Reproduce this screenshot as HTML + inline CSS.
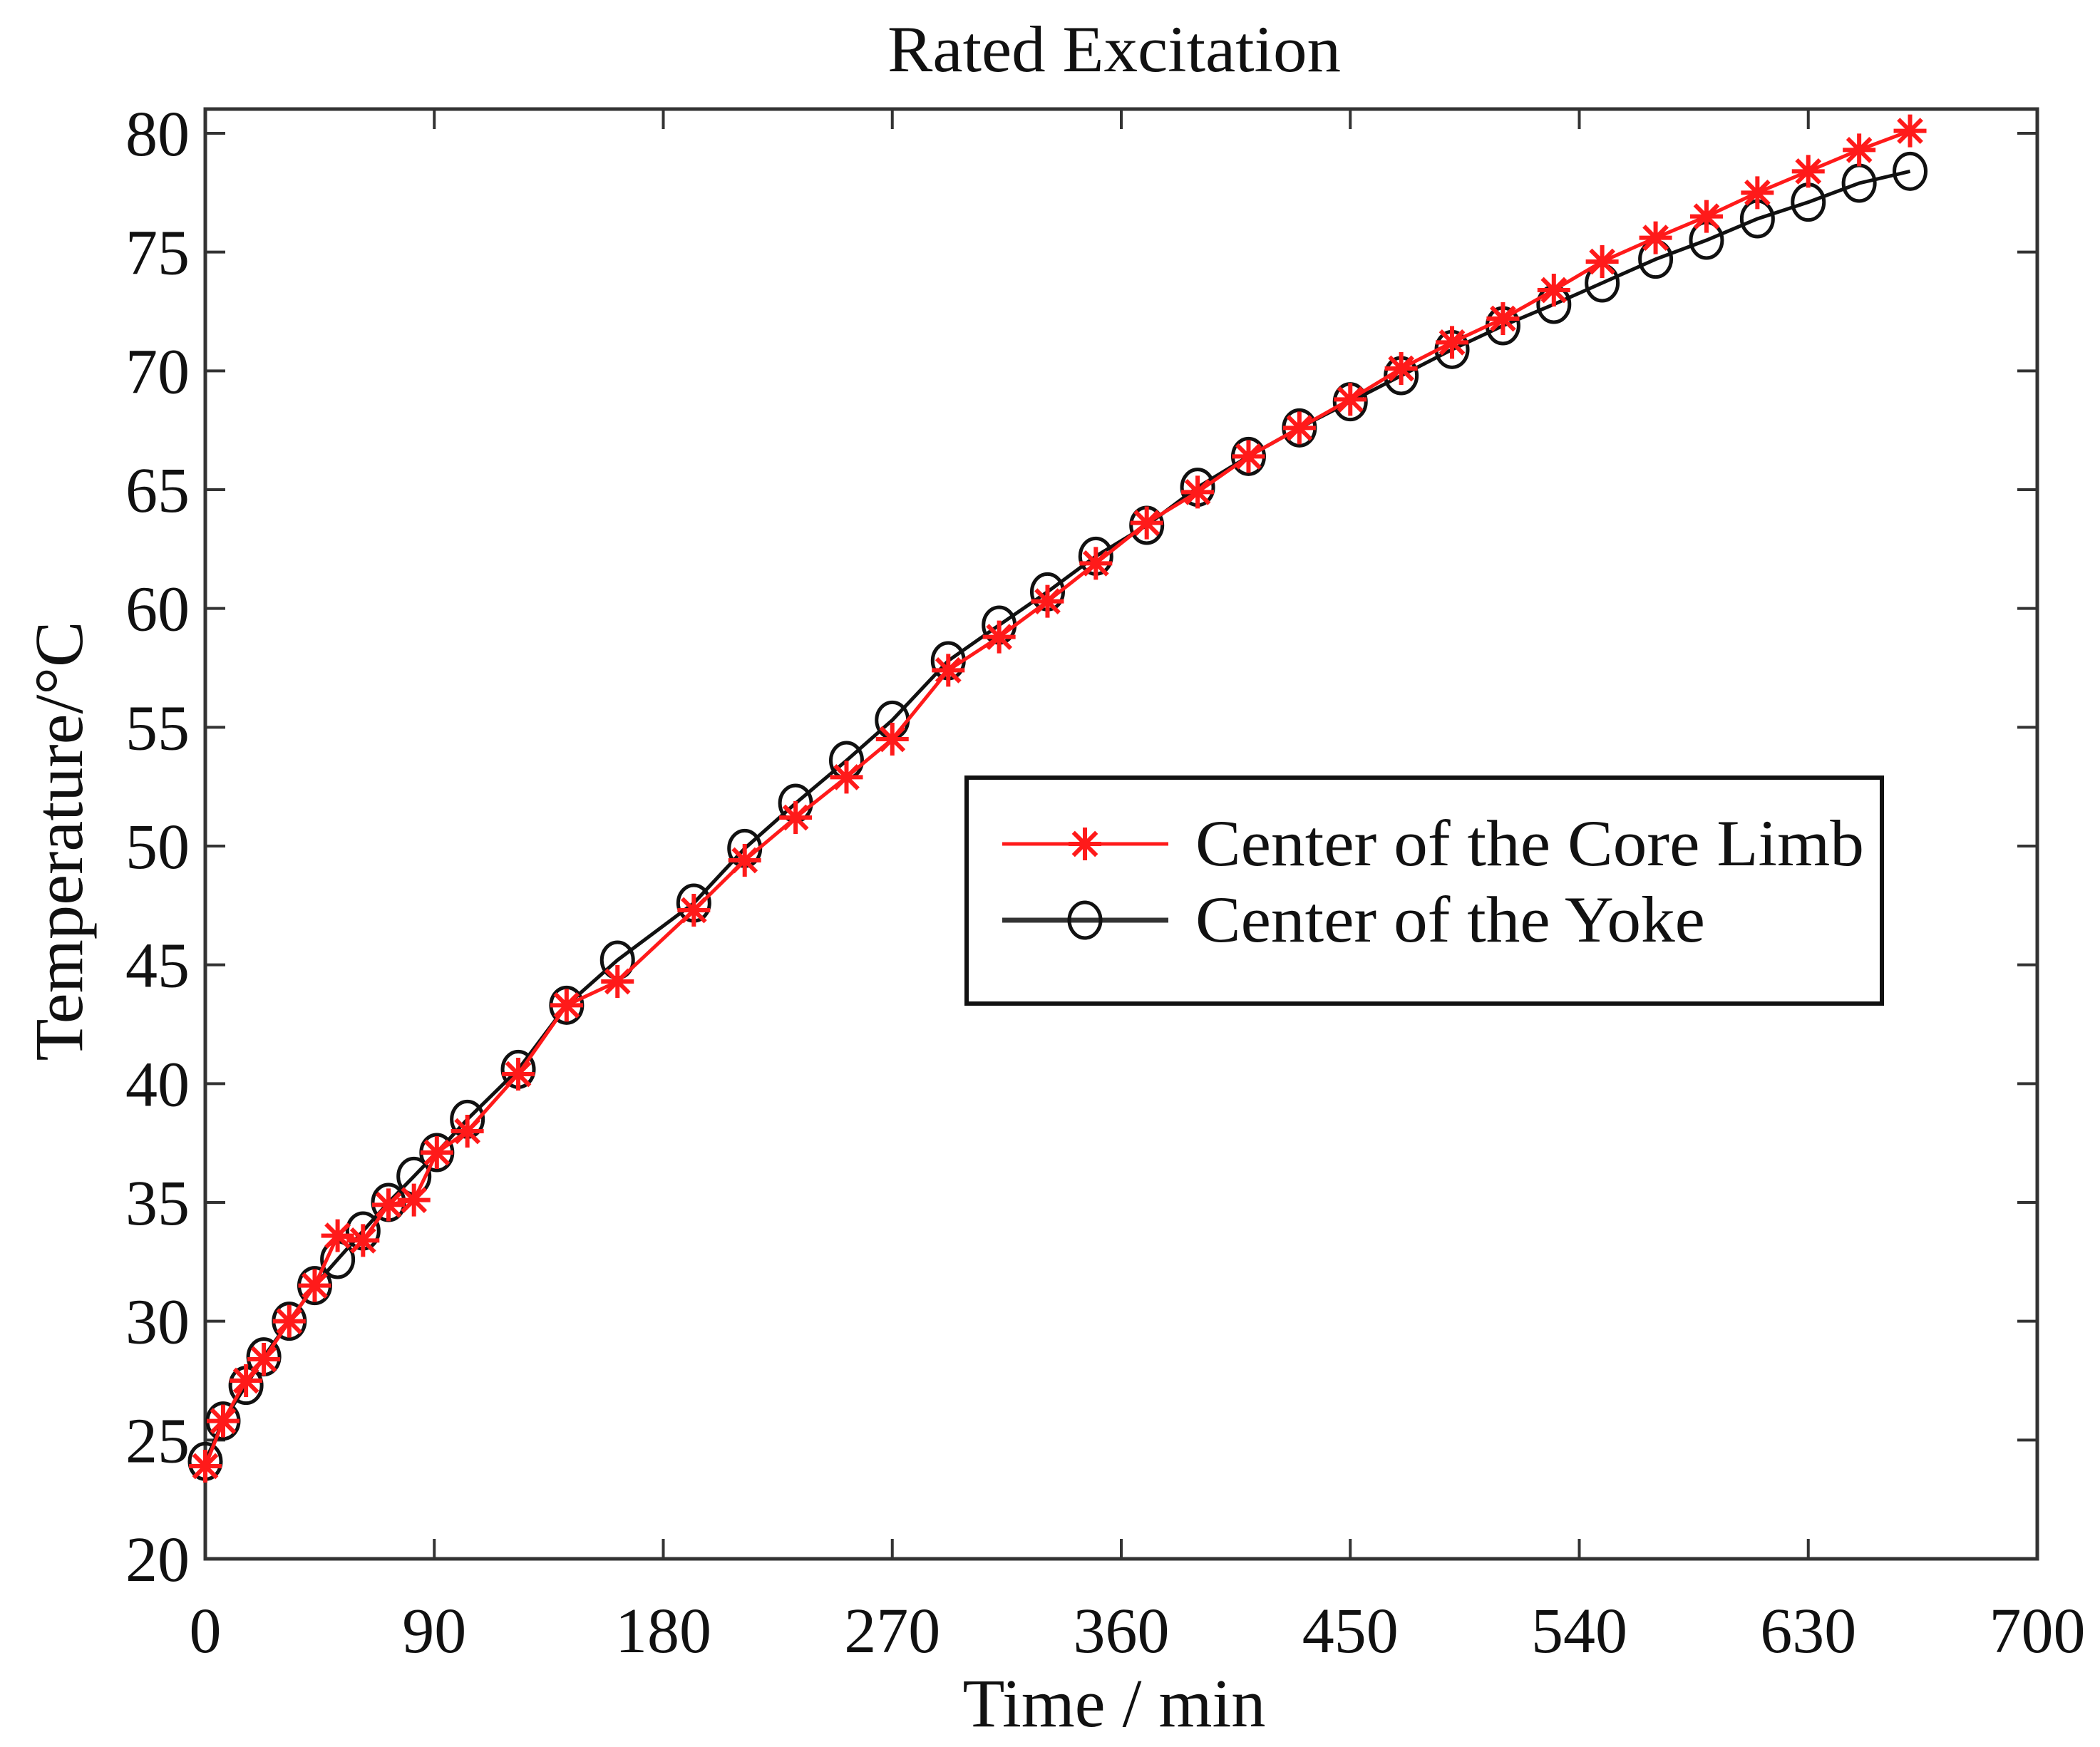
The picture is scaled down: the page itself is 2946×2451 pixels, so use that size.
<!DOCTYPE html>
<html><head><meta charset="utf-8"><style>
html,body{margin:0;padding:0;background:#fff;}
svg{display:block;font-family:"Liberation Serif",serif;}
</style></head><body>
<svg id="chart" width="2946" height="2451" viewBox="0 0 2946 2451">
<g id="plot"></g>
</svg>
<script>
const timesMin = [0,7,16,23,33,43,52,62,72,82,91,103,123,142,162,192,212,232,252,270,292,312,331,350,370,390,410,430,450,470,490,510,530,549,570,590,610,630,650,670];
const coreLimb = [23.9,25.8,27.5,28.4,30.0,31.5,33.6,33.4,34.9,35.1,37.1,38.0,40.4,43.3,44.3,47.3,49.4,51.2,52.9,54.5,57.4,58.8,60.3,61.9,63.6,64.9,66.4,67.6,68.8,70.1,71.2,72.2,73.4,74.6,75.6,76.5,77.5,78.4,79.3,80.1];
const yoke = [24.1,25.8,27.3,28.5,30.0,31.5,32.6,33.8,35.0,36.1,37.1,38.5,40.6,43.3,45.2,47.6,49.9,51.8,53.6,55.3,57.8,59.3,60.7,62.2,63.5,65.1,66.4,67.6,68.7,69.8,70.9,71.9,72.8,73.7,74.7,75.5,76.4,77.1,77.9,78.4];
const xTickVals = [0,90,180,270,360,450,540,630,720];
const xTickLabels = ["0","90","180","270","360","450","540","630","700"];
const yTickVals = [20,25,30,35,40,45,50,55,60,65,70,75,80];

const L=288,R=2858,T=153,B=2187;
const X0=0,X1=720,Y0=20,Y1=80;
const yTop=187;
function xs(v){return L+(v-X0)/(X1-X0)*(R-L);}
function ys(v){return B-(v-Y0)/(Y1-Y0)*(B-yTop);}
const NS="http://www.w3.org/2000/svg";
const svg=document.getElementById('chart');
function mk(tag,attrs,parent){const e=document.createElementNS(NS,tag);for(const k in attrs)e.setAttribute(k,attrs[k]);(parent||svg).appendChild(e);return e;}

let t=mk('text',{x:1563,y:100,'font-size':92,'text-anchor':'middle',fill:'#111',textLength:636,lengthAdjust:'spacingAndGlyphs'});t.textContent='Rated Excitation';



let box=mk('rect',{x:L,y:T,width:R-L,height:B-T,fill:'none',stroke:'#333','stroke-width':5});



xTickVals.forEach((v,i)=>{
  const x=xs(v);
  let tk=mk('path',{d:`M${x},${B}V${B-28}M${x},${T}V${T+28}`,stroke:'#333','stroke-width':4});
  
  
  let lb=mk('text',{x:x,y:2318,'font-size':90,'text-anchor':'middle',fill:'#111'});
  lb.textContent=xTickLabels[i];
  
  
});
yTickVals.forEach(v=>{
  const y=ys(v);
  let tk=mk('path',{d:`M${L},${y}H${L+28}M${R},${y}H${R-28}`,stroke:'#333','stroke-width':4});
  
  
  let lb=mk('text',{x:266,y:y+31,'font-size':90,'text-anchor':'end',fill:'#111'});
  lb.textContent=String(v);
  
  
});

let xt=mk('text',{x:1563,y:2422,'font-size':96,'text-anchor':'middle',fill:'#111',textLength:425,lengthAdjust:'spacingAndGlyphs'});xt.textContent='Time / min';


let yt=mk('text',{x:0,y:0,'font-size':96,'text-anchor':'middle',fill:'#111',textLength:617,lengthAdjust:'spacingAndGlyphs',transform:'translate(115,1180) rotate(-90)'});yt.textContent='Temperature/°C';



function star(g,x,y,r){
  let d='';
  for(let k=0;k<4;k++){const a=k*Math.PI/4;const dx=r*Math.sin(a),dy=r*Math.cos(a);d+=`M${x-dx},${y-dy}L${x+dx},${y+dy}`;}
  return mk('path',{d:d,stroke:'#ff1a1a','stroke-width':6,fill:'none'},g);
}
let gy=mk('g',{});


let lp=mk('polyline',{points:timesMin.map((m,i)=>xs(m)+','+ys(yoke[i])).join(' '),fill:'none',stroke:'#111','stroke-width':5},gy);


let gc=mk('g',{});


let lc=mk('polyline',{points:timesMin.map((m,i)=>xs(m)+','+ys(coreLimb[i])).join(' '),fill:'none',stroke:'#ff1a1a','stroke-width':5},gc);


timesMin.forEach((m,i)=>{
  let s=star(gc,xs(m),ys(coreLimb[i]),23);
  
  
});
timesMin.forEach((m,i)=>{
  let c=mk('ellipse',{cx:xs(m),cy:ys(yoke[i]),rx:22,ry:25,fill:'none',stroke:'#111','stroke-width':5},gy);
  
  
});

let lg=mk('g',{});


let lr=mk('rect',{x:1356,y:1091,width:1284,height:317,fill:'#fff',stroke:'#111','stroke-width':6},lg);


let l1=mk('line',{x1:1406,y1:1184,x2:1639,y2:1184,stroke:'#ff1a1a','stroke-width':5},lg);


let s1=star(lg,1522,1184,23);


let t1=mk('text',{x:1677,y:1214,'font-size':92,fill:'#111',textLength:938,lengthAdjust:'spacingAndGlyphs'},lg);t1.textContent='Center of the Core Limb';


let l2=mk('line',{x1:1406,y1:1291,x2:1639,y2:1291,stroke:'#333','stroke-width':7},lg);


let c2=mk('ellipse',{cx:1522,cy:1291,rx:22,ry:25,fill:'none',stroke:'#111','stroke-width':5},lg);


let t2=mk('text',{x:1677,y:1321,'font-size':92,fill:'#111',textLength:715,lengthAdjust:'spacingAndGlyphs'},lg);t2.textContent='Center of the Yoke';


</script>
</body></html>
